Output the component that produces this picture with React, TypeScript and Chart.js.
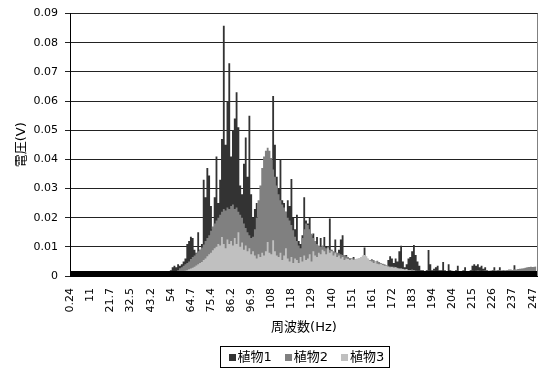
import React, { useEffect, useRef } from 'react';
import { Chart, registerables } from 'chart.js';

Chart.register(...registerables);

// Frequency grid of the spectrum (bin width 1000/4096 Hz, first bin = 0.24 Hz)
const HZ_PER_BIN = 1000 / 4096;
const TOTAL_BINS = 1024;
const FIRST_BIN = 200; // first sampled bin index
const BIN_STEP = 4; // bins between samples
const X_TICK_EVERY = 44; // bins between tick labels

const X_TICK_LABELS = ['0.24', '11', '21.7', '32.5', '43.2', '54', '64.7', '75.4', '86.2', '96.9', '108', '118', '129', '140', '151', '161', '172', '183', '194', '204', '215', '226', '237', '247'];
const Y_TICKS = [0, 0.01, 0.02, 0.03, 0.04, 0.05, 0.06, 0.07, 0.08, 0.09];
const Y_TICK_LABELS = ['0', '0.01', '0.02', '0.03', '0.04', '0.05', '0.06', '0.07', '0.08', '0.09'];

const SERIES_NAMES = ['植物1', '植物2', '植物3'];
const COLORS = ['#333333', '#808080', '#c0c0c0'];

// 植物1 (V)
const PLANT1 = [
  0.0005, 0.0005, 0.0008, 0.001, 0.0012, 0.002, 0.003, 0.0035, 0.003, 0.004,
  0.0035, 0.004, 0.005, 0.006, 0.011, 0.012, 0.0135, 0.013, 0.009, 0.008,
  0.015, 0.009, 0.011, 0.033, 0.027, 0.037, 0.0345, 0.024, 0.016, 0.027,
  0.041, 0.025, 0.033, 0.047, 0.0858, 0.045, 0.06, 0.073, 0.041, 0.05,
  0.054, 0.063, 0.051, 0.031, 0.028, 0.0385, 0.0475, 0.034, 0.055, 0.028,
  0.02, 0.023, 0.025, 0.02, 0.022, 0.024, 0.025, 0.026, 0.027, 0.025,
  0.028, 0.0617, 0.045, 0.034, 0.03, 0.04, 0.026, 0.025, 0.022, 0.026,
  0.024, 0.0333, 0.02, 0.016, 0.021, 0.012, 0.011, 0.014, 0.027, 0.019,
  0.018, 0.02, 0.014, 0.0146, 0.012, 0.0134, 0.01, 0.013, 0.009, 0.0134,
  0.01, 0.008, 0.0197, 0.009, 0.008, 0.0125, 0.007, 0.009, 0.0125, 0.014,
  0.007, 0.0072, 0.006, 0.005, 0.006, 0.0065, 0.005, 0.0045, 0.004, 0.004,
  0.005, 0.0098, 0.006, 0.005, 0.004, 0.0045, 0.004, 0.0035, 0.004, 0.003,
  0.003, 0.0035, 0.003, 0.0035, 0.0055, 0.0068, 0.006, 0.0045, 0.006, 0.005,
  0.0085, 0.0104, 0.005, 0.003, 0.004, 0.006, 0.0065, 0.0085, 0.0106, 0.0072,
  0.005, 0.0035, 0.002, 0.002, 0.0015, 0.002, 0.0089, 0.004, 0.002, 0.0025,
  0.003, 0.0035, 0.002, 0.002, 0.0048, 0.002, 0.0015, 0.004, 0.002, 0.0015,
  0.0015, 0.002, 0.0035, 0.0015, 0.0015, 0.002, 0.003, 0.0015, 0.0015, 0.002,
  0.0035, 0.004, 0.0035, 0.004, 0.003, 0.0035, 0.0025, 0.003, 0.002, 0.0015,
  0.0015, 0.002, 0.003, 0.0015, 0.002, 0.003, 0.0015, 0.0015, 0.0015, 0.0015,
  0.0015, 0.0015, 0.0015, 0.0037, 0.0015, 0.0015, 0.0015, 0.0015, 0.0015, 0.0015,
  0.0015, 0.0015, 0.0015, 0.0015, 0.0015, 0.0015,
];

// 植物2 (V)
const PLANT2 = [
  0, 0, 0, 0, 0, 0, 0, 0.001, 0.0015, 0.002,
  0.0027, 0.003, 0.0035, 0.004, 0.0045, 0.005, 0.0058, 0.0065, 0.007, 0.0078,
  0.0085, 0.009, 0.0098, 0.0108, 0.012, 0.013, 0.014, 0.0155, 0.017, 0.018,
  0.019, 0.02, 0.021, 0.022, 0.023, 0.0225, 0.0235, 0.023, 0.024, 0.0245,
  0.023, 0.0235, 0.022, 0.021, 0.02, 0.018, 0.0165, 0.015, 0.014, 0.013,
  0.0135, 0.016, 0.02, 0.026, 0.031, 0.037, 0.041, 0.043, 0.044, 0.043,
  0.0405, 0.0365, 0.034, 0.031, 0.028, 0.026, 0.0245, 0.0235, 0.022, 0.02,
  0.019, 0.0175, 0.0157, 0.0135, 0.012, 0.0105, 0.0095, 0.013, 0.016, 0.018,
  0.0175, 0.016, 0.0145, 0.013, 0.012, 0.011, 0.0105, 0.01, 0.0105, 0.01,
  0.0095, 0.01, 0.009, 0.0088, 0.0085, 0.0082, 0.008, 0.0078, 0.0075, 0.0072,
  0.007, 0.0068, 0.0065, 0.0062, 0.006, 0.006, 0.0058, 0.0055, 0.0055, 0.0052,
  0.005, 0.005, 0.0052, 0.005, 0.0055, 0.0058, 0.0055, 0.005, 0.0052, 0.0048,
  0.0045, 0.0042, 0.004, 0.0038, 0.0035, 0.0033, 0.003, 0.0032, 0.003, 0.0028,
  0.0027, 0.0025, 0.0025, 0.0022, 0.0022, 0.002, 0.002, 0.0022, 0.002, 0.0019,
  0.0018, 0.0018, 0.0017, 0.0018, 0.0016, 0.0017, 0.0018, 0.0016, 0.0017, 0.0018,
  0.0017, 0.0016, 0.0018, 0.0017, 0.0016, 0.0018, 0.0017, 0.0016, 0.0017, 0.0018,
  0.0016, 0.0017, 0.0018, 0.0017, 0.0016, 0.0017, 0.0018, 0.0017, 0.0016, 0.0017,
  0.0018, 0.0017, 0.0018, 0.0019, 0.0018, 0.0017, 0.0018, 0.0019, 0.0018, 0.0018,
  0.0019, 0.0018, 0.0019, 0.002, 0.0019, 0.002, 0.002, 0.0021, 0.002, 0.0021,
  0.0022, 0.0022, 0.0021, 0.0023, 0.0022, 0.0024, 0.0025, 0.0026, 0.0027, 0.0028,
  0.003, 0.0031, 0.0032, 0.0031, 0.0032, 0.0033,
];

// 植物3 (V)
const PLANT3 = [
  0, 0, 0, 0, 0, 0, 0, 0, 0, 0.0008,
  0.001, 0.0012, 0.0015, 0.0018, 0.002, 0.0023, 0.0026, 0.0028, 0.0032, 0.0036,
  0.004, 0.0045, 0.0048, 0.0055, 0.006, 0.0068, 0.0075, 0.008, 0.0088, 0.0095,
  0.01, 0.011, 0.0105, 0.0134, 0.011, 0.0095, 0.0125, 0.011, 0.012, 0.0105,
  0.013, 0.011, 0.015, 0.01, 0.0115, 0.009, 0.0105, 0.0085, 0.0095, 0.0075,
  0.0085, 0.007, 0.006, 0.0075, 0.0065, 0.008, 0.007, 0.0085, 0.0117, 0.008,
  0.0075, 0.0123, 0.0085, 0.007, 0.0065, 0.008, 0.0055, 0.007, 0.0095, 0.006,
  0.005, 0.0065, 0.0045, 0.006, 0.0055, 0.0045, 0.0065, 0.005, 0.007, 0.0055,
  0.006, 0.0075, 0.005, 0.0085, 0.007, 0.0065, 0.008, 0.0075, 0.009, 0.0085,
  0.0075, 0.0095, 0.008, 0.0085, 0.007, 0.0078, 0.0065, 0.007, 0.006, 0.0065,
  0.0055, 0.006, 0.0058, 0.0055, 0.006, 0.0055, 0.0058, 0.006, 0.0062, 0.0065,
  0.007, 0.0072, 0.0068, 0.006, 0.0052, 0.005, 0.0045, 0.0048, 0.0042, 0.004,
  0.0042, 0.0038, 0.0035, 0.0036, 0.0032, 0.003, 0.0032, 0.0028, 0.003, 0.0027,
  0.0025, 0.0026, 0.0024, 0.0022, 0.0024, 0.002, 0.002, 0.0018, 0.0019, 0.0017,
  0.0016, 0.0015, 0.0014, 0.0015, 0.0014, 0.0013, 0.0014, 0.0013, 0.0014, 0.0013,
  0.0013, 0.0014, 0.0013, 0.0013, 0.0014, 0.0013, 0.0013, 0.0014, 0.0013, 0.0013,
  0.0013, 0.0013, 0.0014, 0.0013, 0.0013, 0.0013, 0.0014, 0.0013, 0.0013, 0.0013,
  0.0013, 0.0014, 0.0013, 0.0013, 0.0013, 0.0013, 0.0014, 0.0013, 0.0013, 0.0013,
  0.0013, 0.0012, 0.0012, 0.0012, 0.0011, 0.0011, 0.001, 0.001, 0.001, 0.001,
  0.001, 0.001, 0.001, 0.001, 0.001, 0.001, 0.001, 0.001, 0.001, 0.001,
  0.001, 0.001, 0.001, 0.001, 0.001, 0.001,
];

const SERIES = [PLANT1, PLANT2, PLANT3];
const FREQS = PLANT1.map((_, k) => (FIRST_BIN + BIN_STEP * k + 1) * HZ_PER_BIN);

const FONT_FAMILY = "'DejaVu Sans', 'Noto Sans CJK JP', sans-serif";

const overlayPlugin = {
  id: 'overlay',
  afterDraw(chart: any) {
    const { ctx, chartArea: a } = chart;
    ctx.save();
    // heavy baseline band
    ctx.fillStyle = '#000';
    ctx.fillRect(a.left, a.bottom - 5, a.right - a.left, 6);
    // right border of plot area
    ctx.strokeStyle = '#808080';
    ctx.lineWidth = 1;
    const rx = Math.round(a.right) - 0.5;
    ctx.beginPath();
    ctx.moveTo(rx, a.top);
    ctx.lineTo(rx, a.bottom);
    ctx.stroke();
    // legend with frame
    ctx.font = `13px ${FONT_FAMILY}`;
    const sq = 7, gapText = 2, gapItem = 13, padL = 8, padR = 5;
    const widths = SERIES_NAMES.map((n) => sq + gapText + ctx.measureText(n).width);
    const total = padL + widths.reduce((s, w) => s + w, 0) + gapItem * (widths.length - 1) + padR;
    const cx = (a.left + a.right) / 2;
    const bx = Math.round(cx - total / 2) + 0.5;
    const by = chart.height - 24.5;
    const bh = 21;
    ctx.strokeStyle = '#000';
    ctx.strokeRect(bx, by, Math.round(total), bh);
    let x = bx + padL;
    const cy = by + bh / 2;
    ctx.textBaseline = 'middle';
    ctx.textAlign = 'left';
    SERIES_NAMES.forEach((n, i) => {
      ctx.fillStyle = COLORS[i];
      ctx.fillRect(Math.round(x), Math.round(cy - sq / 2), sq, sq);
      ctx.fillStyle = '#000';
      ctx.fillText(n, x + sq + gapText, cy + 0.5);
      x += widths[i] + gapItem;
    });
    ctx.restore();
  },
};

export default function App() {
  const ref = useRef<HTMLCanvasElement | null>(null);

  useEffect(() => {
    document.body.style.margin = '0';
    const canvas = ref.current;
    if (!canvas) return;
    const tickFont = { family: FONT_FAMILY, size: 11 };
    const titleFont = { family: FONT_FAMILY, size: 13 };
    const chart = new Chart(canvas, {
      type: 'line',
      data: {
        datasets: SERIES.map((vals, i) => ({
          label: SERIES_NAMES[i],
          data: vals.map((v, k) => ({ x: FREQS[k], y: v })),
          backgroundColor: COLORS[i],
          borderColor: 'rgba(0,0,0,0)',
          borderWidth: 0,
          pointRadius: 0,
          stepped: 'middle',
          fill: 'origin',
          order: SERIES.length - i,
        })),
      },
      options: {
        responsive: false,
        animation: false,
        layout: { padding: { left: 0, right: 6, top: 12, bottom: 32 } },
        plugins: { legend: { display: false }, tooltip: { enabled: false } },
        scales: {
          x: {
            type: 'linear',
            min: 0.5 * HZ_PER_BIN,
            max: (TOTAL_BINS + 0.5) * HZ_PER_BIN,
            afterBuildTicks: (s: any) => {
              s.ticks = X_TICK_LABELS.map((_, j) => ({ value: (j * X_TICK_EVERY + 1) * HZ_PER_BIN }));
            },
            afterFit: (s: any) => {
              s.height = 63;
            },
            ticks: {
              autoSkip: false,
              maxRotation: 90,
              minRotation: 90,
              padding: 12,
              font: tickFont,
              color: '#000',
              callback: (_v: any, i: number) => X_TICK_LABELS[i],
            },
            grid: { display: false, drawTicks: false },
            border: { display: false },
            title: { display: true, text: '周波数(Hz)', font: titleFont, color: '#000', padding: { top: 0, bottom: 4 } },
          },
          y: {
            min: 0,
            max: 0.09,
            afterBuildTicks: (s: any) => {
              s.ticks = Y_TICKS.map((v) => ({ value: v }));
            },
            afterFit: (s: any) => {
              s.width = 70;
            },
            ticks: {
              padding: 7,
              font: tickFont,
              color: '#000',
              callback: (_v: any, i: number) => Y_TICK_LABELS[i],
            },
            grid: { color: '#222', tickLength: 5 },
            border: { color: '#000' },
            title: { display: true, text: '電圧(V)', font: titleFont, color: '#000', padding: { top: 14, bottom: 0 } },
          },
        },
      },
      plugins: [overlayPlugin],
    } as any);
    return () => chart.destroy();
  }, []);

  return <canvas ref={ref} width={558} height={371} style={{ display: 'block' }} />;
}
